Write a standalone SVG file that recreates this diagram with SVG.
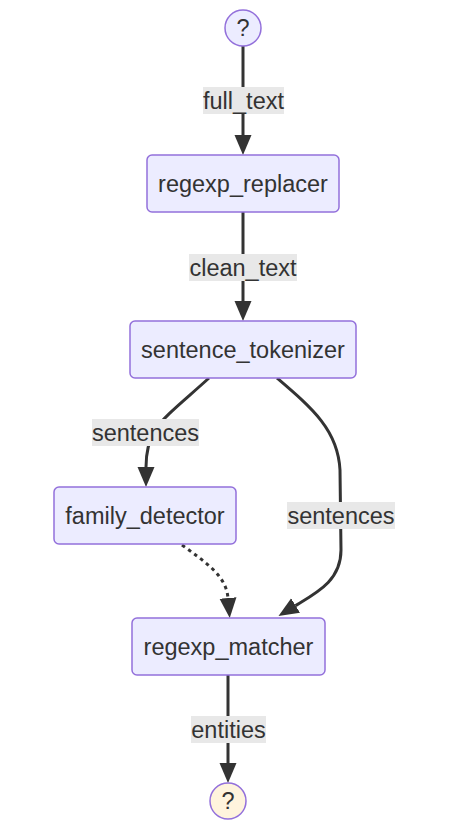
<svg xmlns="http://www.w3.org/2000/svg" width="459" height="832" viewBox="0 0 459 832">
<style>
.node rect,.node circle{fill:#ECECFF;stroke:#9370DB;stroke-width:1.5}
.node circle.end{fill:#FFF4DD}
text{font-family:"Liberation Sans",Arial,sans-serif;font-size:23.5px;fill:#333;text-anchor:middle;dominant-baseline:central}
.edge{fill:none;stroke:#333;stroke-width:3}
.dot{stroke-dasharray:3.5 4}
.lbl rect{fill:#e8e8e8}
</style>
<defs>
<marker id="ah" viewBox="0 0 10 10" refX="0" refY="5" markerWidth="20" markerHeight="20" markerUnits="userSpaceOnUse" orient="auto">
<path d="M0,0.75 L10,5 L0,9.25 z" fill="#333"/>
</marker>
</defs>
<g id="connectors">
<path class="edge" d="M243,46 L243,135" marker-end="url(#ah)"/>
<path class="edge" d="M243,212 L243,301" marker-end="url(#ah)"/>
<path class="edge" d="M209,378 C185,400 165,415 155,430 C148,442 146,455 146,467" marker-end="url(#ah)"/>
<path class="edge" d="M277,378 C312,408 338,430 340,470 L341,550 C341,580 318,592 295.6,605.6" marker-end="url(#ah)"/>
<path class="edge dot" d="M182,545 C205,562 226,575 228,598" marker-end="url(#ah)"/>
<path class="edge" d="M228,675 L228,763" marker-end="url(#ah)"/>
<g class="lbl"><rect x="203" y="87" width="81" height="27"/><text x="243.5" y="100.5">full_text</text></g>
<g class="lbl"><rect x="189" y="254" width="108" height="27"/><text x="243" y="267.5">clean_text</text></g>
<g class="lbl"><rect x="92" y="419" width="107" height="27"/><text x="145.5" y="432.5">sentences</text></g>
<g class="lbl"><rect x="287" y="502" width="108" height="27"/><text x="341" y="515.5">sentences</text></g>
<g class="lbl"><rect x="191" y="716" width="75" height="27"/><text x="228.5" y="729.5">entities</text></g>
</g>
<g id="start" class="node"><circle cx="243" cy="28" r="18"/><text x="243" y="28">?</text></g>
<g id="regexp_replacer" class="node"><rect x="147" y="155" width="192" height="57" rx="5"/><text x="243" y="183.5">regexp_replacer</text></g>
<g id="sentence_tokenizer" class="node"><rect x="130" y="321" width="226" height="57" rx="5"/><text x="243" y="349.5">sentence_tokenizer</text></g>
<g id="family_detector" class="node"><rect x="54" y="487" width="182" height="57" rx="5"/><text x="145" y="515.5">family_detector</text></g>
<g id="regexp_matcher" class="node"><rect x="132" y="618" width="193" height="57" rx="5"/><text x="228.5" y="646.5">regexp_matcher</text></g>
<g id="end" class="node"><circle class="end" cx="228" cy="801" r="18"/><text x="228" y="801">?</text></g>
</svg>
